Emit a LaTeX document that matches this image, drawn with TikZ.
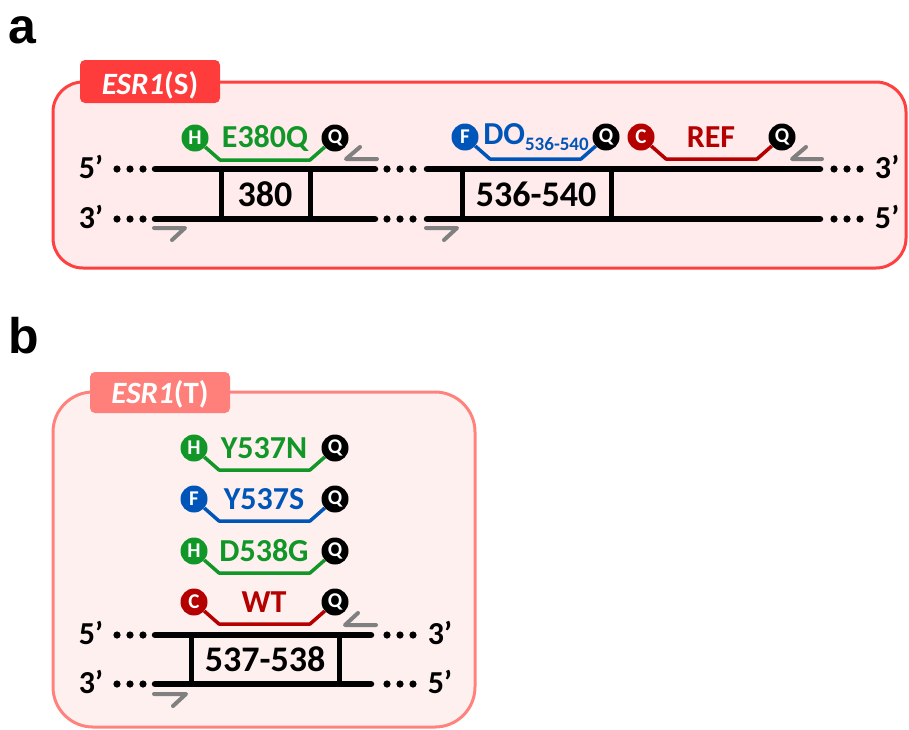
\documentclass[tikz,border=0pt]{standalone}
\usepackage{fontspec}
\setmainfont{Carlito}
\newfontfamily\arialfont{Liberation Sans}
\usetikzlibrary{calc}
\definecolor{pgreen}{RGB}{17,150,40}
\definecolor{pblue}{RGB}{0,85,184}
\definecolor{pred}{RGB}{180,0,0}
\definecolor{primgray}{RGB}{128,128,128}
\definecolor{tabA}{RGB}{255,60,60}
\definecolor{boxAfill}{RGB}{255,235,235}
\definecolor{boxAdraw}{RGB}{255,64,64}
\definecolor{tabB}{RGB}{255,128,122}
\definecolor{boxBfill}{RGB}{255,240,240}
\definecolor{boxBdraw}{RGB}{255,130,125}
\tikzset{
  strand/.style={line width=6.5pt, line cap=round},
  rung/.style={line width=5pt},
  primer/.style={draw=primgray, line width=4pt, line cap=round, line join=round},
  probeline/.style={line width=3.5pt, line join=round},
  pcirc/.style={circle, minimum size=27pt, inner sep=0pt, font=\fontsize{21}{21}\selectfont\bfseries, text=white},
  ptext/.style={font=\fontsize{32}{32}\selectfont\bfseries, inner sep=0pt},
  endlab/.style={font=\fontsize{32}{32}\selectfont\bfseries, inner sep=0pt},
  boxlab/.style={font=\fontsize{36}{36}\selectfont\bfseries, inner sep=0pt},
  tablab/.style={font=\fontsize{31}{31}\selectfont\bfseries, text=white, inner sep=0pt},
  panellab/.style={font=\arialfont\fontsize{50}{50}\selectfont\bfseries, inner sep=0pt, anchor=base west},
  tabbox/.style={rounded corners=5pt},
}
\newcommand\mkprobe[8]{%
  \node[pcirc, fill=#2] (#1L) at (#4,#6) {#3};
  \node[pcirc, fill=black] (#1Q) at (#5,#6) {Q};
  \draw[probeline, #2] (#1L) -- ($(#4,#6)+(25,22)$) coordinate (#1a) -- ($(#5,#6)+(-25,22)$) coordinate (#1b) -- (#1Q);
  \node[ptext, text=#2] (#1T) at (#8,#6) {#7};
}
\newcommand\threedots[2]{%
  \fill (#1,#2) circle (3.6pt) ($(#1,#2)+(13,0)$) circle (3.6pt) ($(#1,#2)+(26,0)$) circle (3.6pt);
}
\begin{document}
\begin{tikzpicture}[x=1pt,y=-1pt]
\useasboundingbox (0,0) rectangle (909,729);

% ---------------- panel a ----------------
\node[panellab] (la) at (8,43) {a};
\draw[draw=boxAdraw, fill=boxAfill, line width=3pt, rounded corners=30pt] (53,82) rectangle (906,268);
\fill[tabA, tabbox] (80,60) rectangle (220,103);
\node[tablab] (tA) at (150,85) {\textit{ESR1}(S)};

% strands
\draw[strand] (155,169) -- (375,169);
\draw[strand] (155,219) -- (375,219);
\draw[strand] (427,169) -- (820,169);
\draw[strand] (427,219) -- (820,219);
\draw[rung] (221,169) -- (221,219);
\draw[rung] (310,169) -- (310,219);
\draw[rung] (462,169) -- (462,219);
\draw[rung] (611,169) -- (611,219);
\node[boxlab] (b380) at (265,194) {380};
\node[boxlab] (b536) at (536,194) {536-540};

\threedots{117}{169}
\threedots{117}{219}
\threedots{387}{169}
\threedots{387}{219}
\threedots{834}{169}
\threedots{834}{219}
\node[endlab] (a5l) at (91,167) {5’};
\node[endlab] (a3l) at (91,217) {3’};
\node[endlab] (a3r) at (887,167) {3’};
\node[endlab] (a5r) at (887,217) {5’};

% primers
\draw[primer] (360,147) -- (346,159) -- (377,159);
\draw[primer] (154,228) -- (185,228) -- (172,240);
\draw[primer] (426,228) -- (457,228) -- (444,240);
\draw[primer] (806,147) -- (792,159) -- (822,159);

% probes
\mkprobe{pe}{pgreen}{H}{195}{335}{138}{E380Q}{265}
\mkprobe{pd}{pblue}{F}{465}{606}{137}{DO\raisebox{-6pt}{\fontsize{19}{19}\selectfont 536-540}}{536}
\mkprobe{pr}{pred}{C}{641}{782}{137}{REF}{711}

% ---------------- panel b ----------------
\node[panellab] (lb) at (8,353) {b};
\draw[draw=boxBdraw, fill=boxBfill, line width=3pt, rounded corners=40pt] (53,392) rectangle (475,727);
\fill[tabB, tabbox] (90,372) rectangle (230,413);
\node[tablab] (tB) at (160,394) {\textit{ESR1}(T)};

\mkprobe{py}{pgreen}{H}{194}{335}{448}{Y537N}{264}
\mkprobe{ps}{pblue}{F}{194}{335}{499}{Y537S}{264}
\mkprobe{pg}{pgreen}{H}{194}{335}{551}{D538G}{264}
\mkprobe{pw}{pred}{C}{194}{335}{602}{WT}{264}

\draw[strand] (155,635) -- (371,635);
\draw[strand] (155,684) -- (371,684);
\draw[rung] (191,635) -- (191,684);
\draw[rung] (339,635) -- (339,684);
\node[boxlab] (b537) at (265,659) {537-538};

\threedots{117}{635}
\threedots{117}{684}
\threedots{387}{635}
\threedots{387}{684}
\node[endlab] (b5l) at (91,633) {5’};
\node[endlab] (b3l) at (91,682) {3’};
\node[endlab] (b3r) at (440,633) {3’};
\node[endlab] (b5r) at (440,682) {5’};

\draw[primer] (358,613) -- (345,625) -- (376,625);
\draw[primer] (154,694) -- (186,694) -- (173,706);
\end{tikzpicture}
\end{document}
